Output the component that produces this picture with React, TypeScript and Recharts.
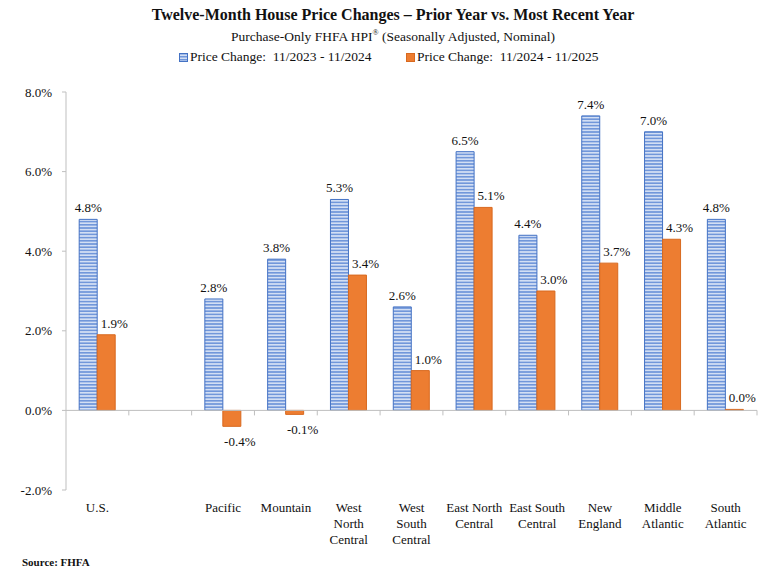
import React from "react";
import { BarChart, Bar, XAxis, YAxis, ReferenceLine, LabelList } from "recharts";

const categories = [
  "U.S.",
  "",
  "Pacific",
  "Mountain",
  "West\nNorth\nCentral",
  "West\nSouth\nCentral",
  "East North\nCentral",
  "East South\nCentral",
  "New\nEngland",
  "Middle\nAtlantic",
  "South\nAtlantic",
];
const priorYear = [4.8, null, 2.8, 3.8, 5.3, 2.6, 6.5, 4.4, 7.4, 7.0, 4.8];
const recentYear = [1.9, null, -0.4, -0.1, 3.4, 1.0, 5.1, 3.0, 3.7, 4.3, 0.0];
const yTicks = [-2, 0, 2, 4, 6, 8];
const seriesNames = ["Price Change:  11/2023 - 11/2024", "Price Change:  11/2024 - 11/2025"];

const data = categories.map((name, i) => ({ name, prior: priorYear[i], recent: recentYear[i] }));

const FONT = "'Liberation Serif', 'Times New Roman', serif";
const AXIS = "#BFBFBF";
const BLUE_EDGE = "#4472C4";
const ORANGE = "#ED7D31";

const pct = (v: number) => `${v.toFixed(1)}%`;

function CategoryTick({ x, y, payload }: any) {
  const lines = String(payload.value).split("\n");
  return (
    <text x={x} y={y} textAnchor="middle" fontFamily={FONT} fontSize={13} fill="#111">
      {lines.map((l, i) => (
        <tspan key={i} x={x} dy={i === 0 ? 22 : 16}>
          {l}
        </tspan>
      ))}
    </text>
  );
}

function valueLabel(dx: number) {
  return (props: any) => {
    const { x, y, width, height, value } = props;
    if (value === null || value === undefined) return null;
    const top = Math.min(y, y + height);
    const bottom = Math.max(y, y + height);
    const ty = value < 0 ? bottom + 20 : top - 7;
    return (
      <text x={x + width / 2 + dx} y={ty} textAnchor="middle" fontFamily={FONT} fontSize={13} fill="#111">
        {pct(value)}
      </text>
    );
  };
}

function ZeroLine(props: any) {
  const { x1, y1, x2 } = props;
  const step = (x2 - x1) / categories.length;
  return (
    <g>
      <line x1={x1} y1={y1} x2={x2} y2={y1} stroke={AXIS} strokeWidth={1} />
      {categories.map((_, i) => (
        <line key={i} x1={x1 + step * (i + 1)} y1={y1} x2={x1 + step * (i + 1)} y2={y1 + 5} stroke={AXIS} strokeWidth={1} />
      ))}
    </g>
  );
}

function StripeIcon() {
  return (
    <svg width={9} height={9} style={{ verticalAlign: "middle", marginRight: 2 }}>
      <defs>
        <pattern id="stripesIcon" width={4} height={3} patternUnits="userSpaceOnUse">
          <rect width={4} height={3} fill="#D3DFF4" />
          <rect width={4} height={1.5} fill="#7197DA" />
        </pattern>
      </defs>
      <rect x={0.5} y={0.5} width={8} height={8} fill="url(#stripesIcon)" stroke={BLUE_EDGE} />
    </svg>
  );
}

export default function App() {
  return (
    <div style={{ position: "absolute", left: 0, top: 0, width: 780, height: 576, background: "#fff", fontFamily: FONT }}>
      <div style={{ position: "absolute", top: 6, left: 0, width: 786, textAlign: "center", fontWeight: "bold", fontSize: 16, color: "#111" }}>
        Twelve-Month House Price Changes – Prior Year vs. Most Recent Year
      </div>
      <div style={{ position: "absolute", top: 28, left: 0, width: 786, textAlign: "center", fontSize: 13.5, color: "#111" }}>
        Purchase-Only FHFA HPI<sup style={{ fontSize: 8 }}>®</sup> (Seasonally Adjusted, Nominal)
      </div>
      <div style={{ position: "absolute", top: 49, left: 179, fontSize: 13.5, color: "#111", whiteSpace: "pre" }}>
        <StripeIcon />
        {seriesNames[0]}
      </div>
      <div style={{ position: "absolute", top: 49, left: 406, fontSize: 13.5, color: "#111", whiteSpace: "pre" }}>
        <svg width={9} height={9} style={{ verticalAlign: "middle", marginRight: 2 }}>
          <rect x={0.5} y={0.5} width={8} height={8} fill={ORANGE} stroke="#D8691F" />
        </svg>
        {seriesNames[1]}
      </div>
      <BarChart
        width={780}
        height={576}
        data={data}
        margin={{ top: 92, right: 23, left: 6, bottom: 26 }}
        barCategoryGap="21%"
        barGap={0}
      >
        <defs>
          <pattern id="stripes" width={4} height={3.2} patternUnits="userSpaceOnUse">
            <rect width={4} height={3.2} fill="#D3DFF4" />
            <rect width={4} height={1.6} fill="#7197DA" />
          </pattern>
        </defs>
        <XAxis
          dataKey="name"
          interval={0}
          axisLine={false}
          tickLine={false}
          tickSize={0}
          tickMargin={0}
          height={60}
          tick={<CategoryTick />}
        />
        <YAxis
          domain={[-2, 8]}
          ticks={yTicks}
          width={60}
          tickFormatter={pct}
          axisLine={{ stroke: AXIS }}
          tickLine={{ stroke: AXIS }}
          tickSize={4}
          tickMargin={10}
          tick={{ fontFamily: FONT, fontSize: 13, fill: "#111" }}
        />
        <ReferenceLine y={0} shape={<ZeroLine />} />
        <Bar dataKey="prior" name={seriesNames[0]} fill="url(#stripes)" stroke={BLUE_EDGE} strokeWidth={1} isAnimationActive={false}>
          <LabelList dataKey="prior" content={valueLabel(0)} />
        </Bar>
        <Bar dataKey="recent" name={seriesNames[1]} fill={ORANGE} stroke="#D8691F" strokeWidth={1} minPointSize={1} isAnimationActive={false}>
          <LabelList dataKey="recent" content={valueLabel(8)} />
        </Bar>
      </BarChart>
      <div style={{ position: "absolute", top: 556, left: 22, fontSize: 11, fontWeight: "bold", color: "#111" }}>Source: FHFA</div>
    </div>
  );
}
